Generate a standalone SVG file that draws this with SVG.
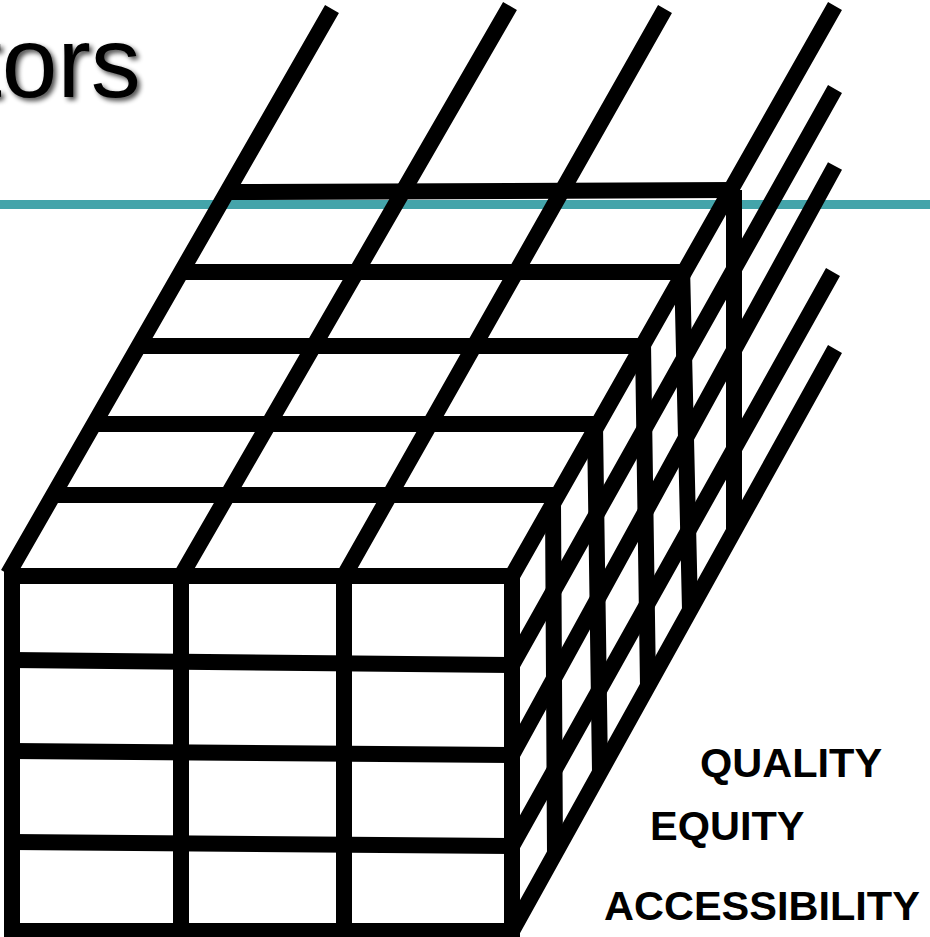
<svg xmlns="http://www.w3.org/2000/svg" width="930" height="937" viewBox="0 0 930 937">
<defs>
<style>
.g{stroke:#000;stroke-width:16;fill:none;stroke-linecap:butt;stroke-linejoin:miter}
.lbl{font-family:"Liberation Sans",Arial,sans-serif;font-weight:bold;font-size:41.5px;fill:#000}
.title{font-family:"Liberation Sans",Arial,sans-serif;font-size:100px}
</style>
<filter id="sh" x="-20%" y="-30%" width="140%" height="160%">
<feGaussianBlur in="SourceAlpha" stdDeviation="2.5"/>
<feOffset dx="3" dy="3" result="b"/>
<feComponentTransfer><feFuncA type="linear" slope="0.7"/></feComponentTransfer>
<feMerge><feMergeNode/><feMergeNode in="SourceGraphic"/></feMerge>
</filter>
</defs>
<rect width="930" height="937" fill="#fff"/>
<g id="title">
<text class="title" x="-26" y="97" fill="#000" filter="url(#sh)">tors</text>
</g>
<rect id="rule" x="0" y="200" width="930" height="9" fill="#44A4AA"/>
<g id="connectors" class="g">
<g id="front-face">
<path d="M12 570 V937 M181 576 V937 M344 576 V937 M512 570 V937"/>
<path d="M4 576 H520 M12 660 L512 665 M12 751 L512 755 M12 842 L512 846 M4 931 H520"/>
</g>
<g id="top-face">
<path d="M8 574 L332 9 M181 576 L510 6 M344 576 L665 9 M512 576 L835 6"/>
<path d="M228 192 L734 190 M182 272 H684 M140 346 H642 M96 424 H597 M55 495 H557"/>
</g>
<g id="right-face">
<path d="M553 503 L555 855 M595 425 L600 772 M643 343 L648 686 M682 266 L690 610 M734 190 L734 531"/>
<path d="M512 665 L835 89 M512 755 L835 166 M512 846 L833 272 M512 931 L835 349"/>
</g>
</g>
<g id="labels">
<text id="quality" class="lbl" x="700" y="777">QUALITY</text>
<text id="equity" class="lbl" x="650" y="840">EQUITY</text>
<text id="accessibility" class="lbl" x="604" y="920">ACCESSIBILITY</text>
</g>
</svg>
